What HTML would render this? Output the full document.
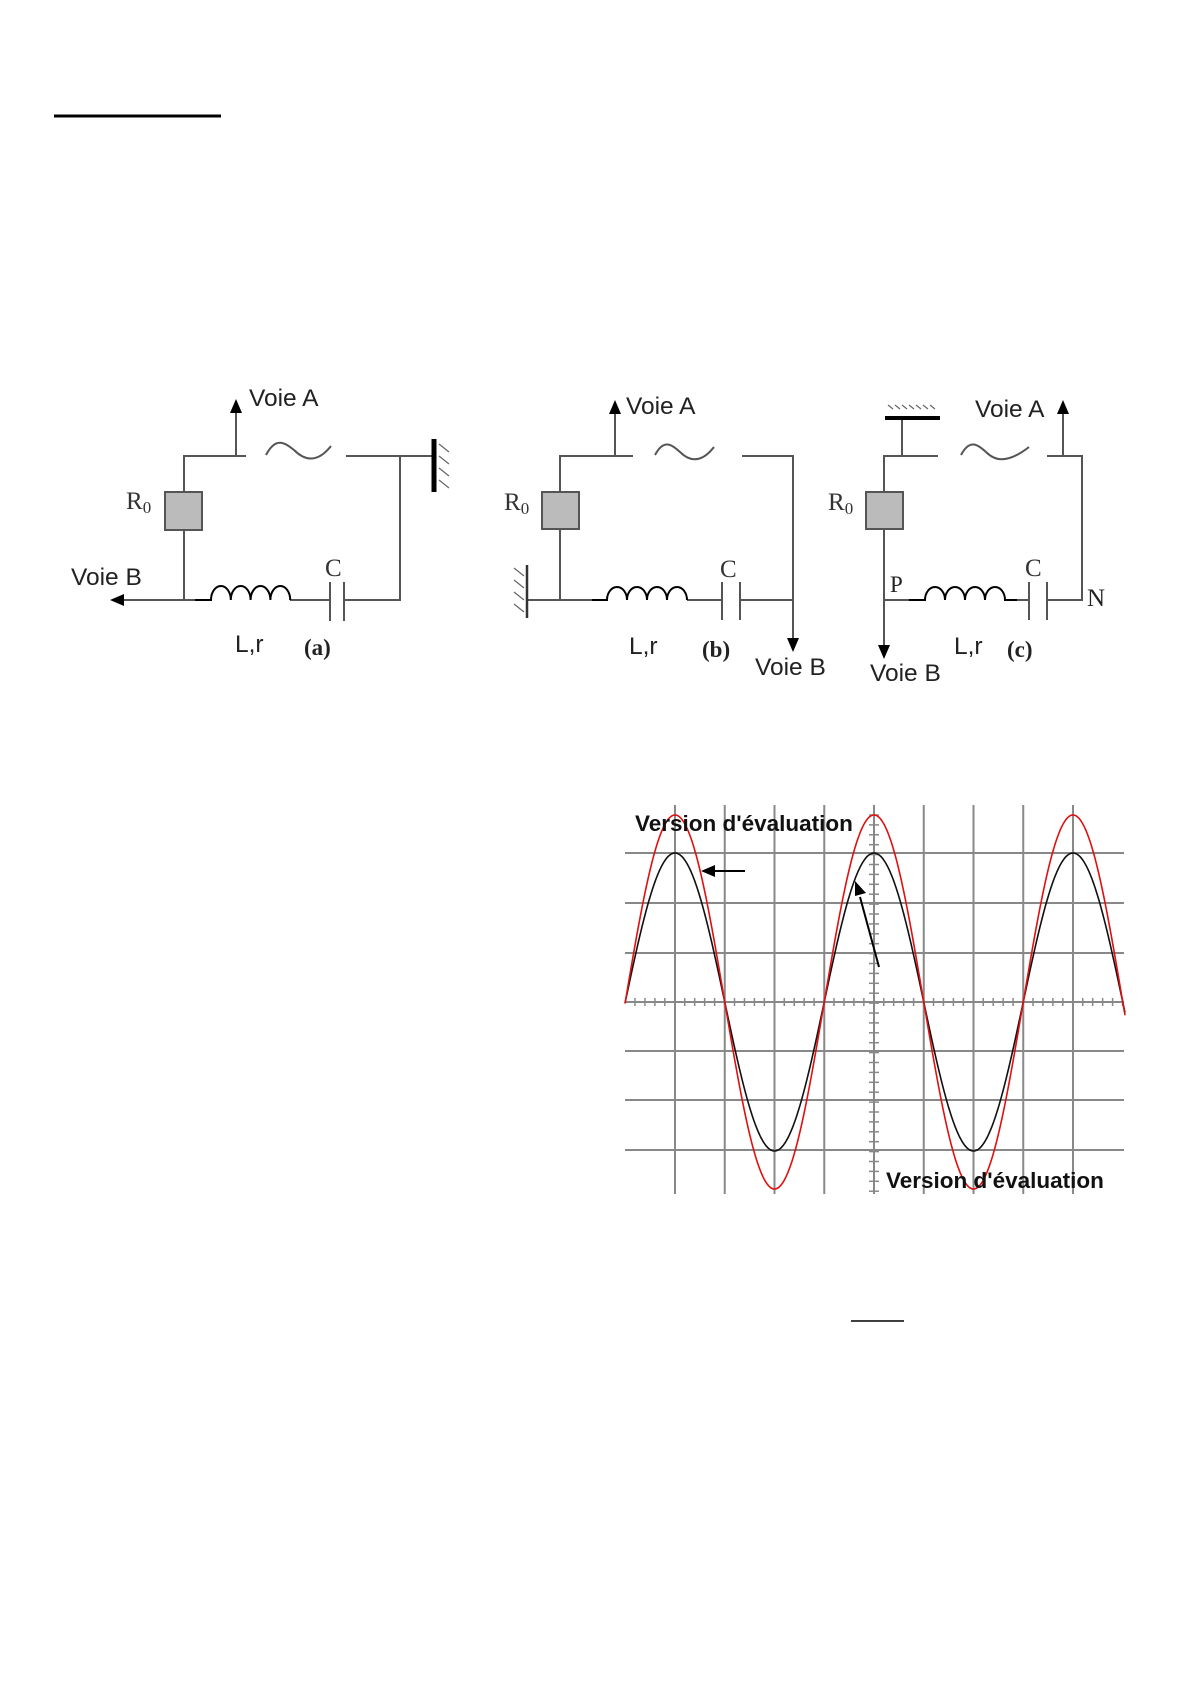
<!DOCTYPE html>
<html><head><meta charset="utf-8"><style>
html,body{margin:0;padding:0;background:#fff}
svg{display:block}
text{font-family:"Liberation Sans",sans-serif}
.s{font-family:"Liberation Serif",serif}
</style></head><body>
<svg id="s" width="1191" height="1684" viewBox="0 0 1191 1684" xmlns="http://www.w3.org/2000/svg">
<rect width="1191" height="1684" fill="#fff"/>
<line x1="54" y1="116" x2="221" y2="116" stroke="#000" stroke-width="3"/>
<line x1="851" y1="1321" x2="904" y2="1321" stroke="#000" stroke-width="1.5"/>

<!-- Circuit (a) -->
<g stroke="#555" stroke-width="2" fill="none">
<path d="M246,456 H184 V600 H195"/>
<path d="M346,456 H400 V600 H344"/>
<line x1="236" y1="456" x2="236" y2="412"/>
<line x1="184" y1="600" x2="123" y2="600"/>
<path d="M266,455 C276,436 285,443 294,450 C303,459 316,465 331,446"/>
<line x1="400" y1="456" x2="434" y2="456"/>
<line x1="290" y1="600" x2="330" y2="600"/>
<line x1="330" y1="582" x2="330" y2="621"/>
<line x1="344" y1="582" x2="344" y2="621"/>
</g>
<path d="M195,600 H211 a9.9,14 0 0 1 19.8,0 a9.9,14 0 0 1 19.8,0 a9.9,14 0 0 1 19.8,0 a9.9,14 0 0 1 19.8,0" stroke="#000" stroke-width="2" fill="none"/>
<path d="M236,399 l-6,14 h12z" fill="#000"/>
<path d="M110,600 l14,-6 v12z" fill="#000"/>
<rect x="165" y="492" width="37" height="38" fill="#bbb" stroke="#555" stroke-width="2"/>
<line x1="434" y1="439" x2="434" y2="492" stroke="#000" stroke-width="5"/>
<g stroke="#666" stroke-width="1.2"><path d="M439,444 l10,8 M439,456 l10,8 M439,468 l10,8 M439,480 l10,8"/></g>
<text x="249" y="406" font-size="24.5" fill="#222">Voie A</text>
<text x="71" y="585" font-size="24.5" fill="#222">Voie B</text>
<text x="126" y="509" font-size="25" class="s" fill="#333">R<tspan font-size="17" dy="4">0</tspan></text>
<text x="325" y="576" font-size="25" class="s" fill="#333">C</text>
<text x="235" y="652" font-size="24.5" fill="#222">L,r</text>
<text x="304" y="655" font-size="23" class="s" font-weight="bold" fill="#222">(a)</text>

<!-- Circuit (b) -->
<g stroke="#555" stroke-width="2" fill="none">
<path d="M633,456 H560 V600 H527"/>
<path d="M560,600 H592"/>
<path d="M742,456 H793 V640"/>
<line x1="615" y1="456" x2="615" y2="412"/>
<path d="M655,455 C664,438 672,445 680,452 C688,460 700,465 714,447"/>
<line x1="687" y1="600" x2="722" y2="600"/>
<line x1="740" y1="600" x2="793" y2="600"/>
<line x1="722" y1="582" x2="722" y2="620"/>
<line x1="740" y1="582" x2="740" y2="620"/>
</g>
<path d="M592,600 H607 a10,13 0 0 1 20,0 a10,13 0 0 1 20,0 a10,13 0 0 1 20,0 a10,13 0 0 1 20,0" stroke="#000" stroke-width="2" fill="none"/>
<path d="M615,400 l-6,14 h12z" fill="#000"/>
<path d="M793,652 l-6,-14 h12z" fill="#000"/>
<rect x="542" y="492" width="37" height="37" fill="#bbb" stroke="#555" stroke-width="2"/>
<line x1="527" y1="565" x2="527" y2="618" stroke="#333" stroke-width="2.5"/>
<g stroke="#666" stroke-width="1.2"><path d="M514,568 l10,8 M514,580 l10,8 M514,592 l10,8 M514,604 l10,8"/></g>
<text x="626" y="414" font-size="24.5" fill="#222">Voie A</text>
<text x="755" y="675" font-size="24.5" fill="#222">Voie B</text>
<text x="504" y="510" font-size="25" class="s" fill="#333">R<tspan font-size="17" dy="4">0</tspan></text>
<text x="720" y="577" font-size="25" class="s" fill="#333">C</text>
<text x="629" y="654" font-size="24.5" fill="#222">L,r</text>
<text x="702" y="657" font-size="23" class="s" font-weight="bold" fill="#222">(b)</text>

<!-- Circuit (c) -->
<g stroke="#555" stroke-width="2" fill="none">
<path d="M938,456 H884 V645"/>
<path d="M884,600 H909"/>
<line x1="902" y1="456" x2="902" y2="418"/>
<path d="M1047,456 H1082 V600 H1047"/>
<line x1="1063" y1="456" x2="1063" y2="412"/>
<path d="M961,455 C970,438 978,445 986,452 C994,460 1006,465 1029,447"/>
<line x1="1017" y1="600" x2="1029" y2="600"/>
<line x1="1029" y1="582" x2="1029" y2="620"/>
<line x1="1047" y1="582" x2="1047" y2="620"/>
</g>
<path d="M909,600 H925 a10,13 0 0 1 20,0 a10,13 0 0 1 20,0 a10,13 0 0 1 20,0 a10,13 0 0 1 20,0 H1017" stroke="#000" stroke-width="2" fill="none"/>
<path d="M1063,400 l-6,14 h12z" fill="#000"/>
<path d="M884,659 l-6,-14 h12z" fill="#000"/>
<rect x="866" y="492" width="37" height="37" fill="#bbb" stroke="#555" stroke-width="2"/>
<line x1="885" y1="418" x2="940" y2="418" stroke="#000" stroke-width="4"/>
<g stroke="#666" stroke-width="1.2"><path d="M888,405 l5,4 M895,405 l5,4 M902,405 l5,4 M909,405 l5,4 M916,405 l5,4 M923,405 l5,4 M930,405 l5,4"/></g>
<text x="975" y="417" font-size="24.5" fill="#222">Voie A</text>
<text x="870" y="681" font-size="24.5" fill="#222">Voie B</text>
<text x="828" y="510" font-size="25" class="s" fill="#333">R<tspan font-size="17" dy="4">0</tspan></text>
<text x="1025" y="576" font-size="25" class="s" fill="#333">C</text>
<text x="890" y="592" font-size="23" class="s" fill="#222">P</text>
<text x="1087" y="606" font-size="25" class="s" fill="#222">N</text>
<text x="954" y="654" font-size="24.5" fill="#222">L,r</text>
<text x="1007" y="657" font-size="23" class="s" font-weight="bold" fill="#222">(c)</text>

<!-- Grid -->
<g id="grid" stroke="#888" stroke-width="2"></g>
<path id="blk" fill="none" stroke="#111" stroke-width="1.6"/>
<path id="red" fill="none" stroke="#e01010" stroke-width="1.6"/>
<line x1="745" y1="871" x2="713" y2="871" stroke="#000" stroke-width="2"/>
<path d="M701,871 l14,-6 v12z" fill="#000"/>
<line x1="879" y1="967" x2="860" y2="897" stroke="#000" stroke-width="2"/>
<path d="M855,881 l0,15 l11,-3z" fill="#000"/>
<text x="635" y="831" font-size="22.5" font-weight="bold" fill="#111">Version d'évaluation</text>
<text x="886" y="1188" font-size="22.5" font-weight="bold" fill="#111">Version d'évaluation</text>
</svg>
<script>
var g=document.getElementById('grid'),ns='http://www.w3.org/2000/svg';
function L(a,b,c,d,w){var l=document.createElementNS(ns,'line');l.setAttribute('x1',a);l.setAttribute('y1',b);l.setAttribute('x2',c);l.setAttribute('y2',d);if(w)l.setAttribute('stroke-width',w);g.appendChild(l);}
for(var i=0;i<9;i++){var x=675+i*49.75;L(x,805,x,1194);}
var ys=[853,903,953,1002,1051,1100,1150];
ys.forEach(function(y){L(625,y,1124,y);});
for(var x=635;x<1124;x+=9.95){L(x,998,x,1006,1.5);}
for(var y=815;y<1192;y+=9.9){L(869,y,879,y,1.5);}
function P(a){var d='';for(var x=625;x<=1125;x+=1){var y=1002-a*Math.cos(2*Math.PI*(x-675)/199);d+=(x==625?'M':'L')+x+','+y.toFixed(1);}return d;}
document.getElementById('blk').setAttribute('d',P(149));
document.getElementById('red').setAttribute('d',P(187));
</script>
</body></html>
